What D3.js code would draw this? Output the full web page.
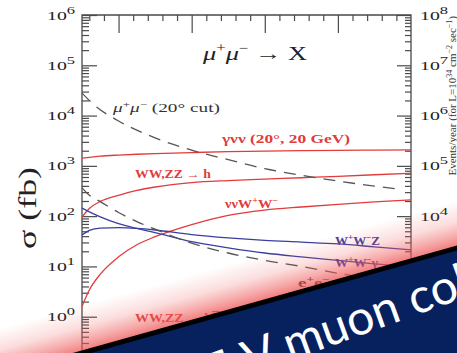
<!DOCTYPE html>
<html>
<head>
<meta charset="utf-8">
<script src="https://cdn.jsdelivr.net/npm/d3@7"></script>
<style>
  html, body { margin: 0; padding: 0; background: #fff; }
  svg { display: block; }
</style>
</head>
<body>
<svg id="chart" width="457" height="353"></svg>
<script>
// Collision energy sqrt(s) in TeV, shared grid for the smooth curves
const energy = [0.5, 0.6, 0.75, 1.0, 1.25, 1.5, 2.0, 2.5, 3.0, 3.5, 4.0, 4.5, 5.0];

// Cross sections in fb on the grid above
const gammaNuNu   = [1420, 1480, 1560, 1640, 1700, 1750, 1840, 1920, 1970, 2010, 2040, 2060, 2080];
const wwzzToH     = [96, 142, 196, 260, 325, 380, 465, 510, 545, 580, 620, 665, 715];
const nuNuWW      = [1.6, 3.4, 7.0, 15.5, 27, 39, 68, 104, 132, 152, 172, 192, 210];
const wwZ         = [42, 52, 58, 59, 57, 53, 43, 37, 33, 30.5, 28, 24.5, 21.3];
const wwGamma     = [144, 122, 97, 71, 57, 47, 31, 23.5, 18.5, 15.5, 13.2, 11.2, 9.8];
const eePair      = [364, 260, 194, 118, 78, 55, 29, 18.5, 13.2, 10.0, 7.3, 5.6, 4.5];

// mu+mu- pair production with a 20 degree cut, drawn up to 4.8 TeV
const muMuEnergy  = [0.5, 0.7, 1.0, 1.5, 2.0, 2.5, 3.0, 3.5, 4.0, 4.5, 4.8];
const muMuPair    = [28000, 14800, 7800, 3600, 2050, 1330, 880, 650, 500, 395, 350];

// Axis ticks
const xMajor = [1, 2, 3, 4];
const leftDecades  = [0, 1, 2, 3, 4, 5, 6];
const rightDecades = [4, 5, 6, 7, 8];

const svg = d3.select("#chart");
const W = 457, H = 353;
svg.append("rect").attr("width", W).attr("height", H).attr("fill", "#fff");

const x = d3.scaleLinear().domain([0.5, 5]).range([82, 411]);
const y = d3.scaleLog().domain([0.1, 1e6]).range([367, 15]);
const yR = d3.scaleLog().domain([10, 1e8]).range([367, 15]);

const frameColor = "#4a4a4a";
const serif = "'Liberation Serif', 'DejaVu Serif', serif";

// stretch a text run to a given advance, glyphs included
function fit(t, len) {
  return t.attr("textLength", len).attr("lengthAdjust", "spacingAndGlyphs");
}

// ---- frame ----
svg.append("path")
  .attr("d", `M${x(0.5)},${H + 20}V${y(1e6)}H${x(5)}V${H + 20}`)
  .attr("fill", "none").attr("stroke", frameColor).attr("stroke-width", 1.3);

// minor tick values for a log axis
function minors(scale) {
  const [a, b] = scale.domain();
  const out = [];
  for (let e = Math.floor(Math.log10(a)); e < Math.log10(b); e++) {
    for (let m = 2; m <= 9; m++) {
      const v = m * Math.pow(10, e);
      if (v > a && v < b) out.push(v);
    }
  }
  return out;
}

function styleAxis(g) {
  g.select(".domain").remove();
  g.selectAll("line").attr("stroke", frameColor).attr("stroke-width", 1.2);
  g.selectAll("text").remove();
}

// left axis (ticks point into the plot)
svg.append("g").attr("transform", `translate(${x(0.5)},0)`)
  .call(d3.axisRight(y).tickValues(leftDecades.map(d => Math.pow(10, d))).tickSize(15))
  .call(styleAxis);
svg.append("g").attr("transform", `translate(${x(0.5)},0)`)
  .call(d3.axisRight(y).tickValues(minors(y)).tickSize(7))
  .call(styleAxis);

// right axis
svg.append("g").attr("transform", `translate(${x(5)},0)`)
  .call(d3.axisLeft(yR).tickValues(rightDecades.map(d => Math.pow(10, d))).tickSize(14))
  .call(styleAxis);
svg.append("g").attr("transform", `translate(${x(5)},0)`)
  .call(d3.axisLeft(yR).tickValues(minors(yR)).tickSize(6))
  .call(styleAxis);

// top axis
const xMinor = d3.range(0.6, 4.99, 0.2).filter(v => Math.abs(v - Math.round(v)) > 0.01);
svg.append("g").attr("transform", `translate(0,${y(1e6)})`)
  .call(d3.axisBottom(x).tickValues(xMajor).tickSize(18))
  .call(styleAxis);
svg.append("g").attr("transform", `translate(0,${y(1e6)})`)
  .call(d3.axisBottom(x).tickValues(xMinor).tickSize(6))
  .call(styleAxis);

// power-of-ten tick labels
function powLabel(g, px, py, exp) {
  const t = g.append("text").attr("x", px).attr("y", py)
    .attr("font-family", serif).attr("font-size", 12).attr("fill", "#222");
  fit(t, 28);
  t.append("tspan").text("10");
  t.append("tspan").attr("dy", -6).attr("font-size", 10).text(exp);
}
const labels = svg.append("g");
leftDecades.forEach(d => powLabel(labels, 47, y(Math.pow(10, d)) + 4.5, d));
rightDecades.forEach(d => powLabel(labels, 420, yR(Math.pow(10, d)) + 4.5, d));

// axis titles
fit(svg.append("text")
  .attr("transform", `translate(36,208) rotate(-90)`)
  .attr("text-anchor", "middle")
  .attr("font-family", serif).attr("font-size", 25).attr("fill", "#222")
  .text("σ (fb)"), 82);

const rt = svg.append("text")
  .attr("transform", `translate(456,16) rotate(-90)`)
  .attr("text-anchor", "end")
  .attr("font-family", serif).attr("font-size", 11).attr("fill", "#333");
rt.append("tspan").text("Events/year (for L=10");
rt.append("tspan").attr("dy", -4).attr("font-size", 8).text("34");
rt.append("tspan").attr("dy", 4).text(" cm");
rt.append("tspan").attr("dy", -4).attr("font-size", 8).text("−2");
rt.append("tspan").attr("dy", 4).text(" sec");
rt.append("tspan").attr("dy", -4).attr("font-size", 8).text("−1");
rt.append("tspan").attr("dy", 4).text(")");

// ---- curves ----
const red = "#e23b3b", blue = "#3a3f9e", dash = "#555";
const line = d3.line().x(d => x(d[0])).y(d => y(d[1])).curve(d3.curveMonotoneX);
const plot = svg.append("g");
function curve(xs, ys, color, dashed) {
  plot.append("path")
    .datum(xs.map((e, i) => [e, ys[i]]))
    .attr("d", line)
    .attr("fill", "none")
    .attr("stroke", color)
    .attr("stroke-width", 1.3)
    .attr("stroke-dasharray", dashed ? "12,8" : null);
}
curve(energy, gammaNuNu, red);
curve(energy, wwzzToH, red);
curve(energy, nuNuWW, red);
curve(energy, wwZ, blue);
curve(energy, wwGamma, blue);
curve(energy, eePair, dash, true);
curve(muMuEnergy, muMuPair, dash, true);

// ---- curve labels ----
function label(px, py, color, parts, size, len) {
  const t = plot.append("text").attr("x", px).attr("y", py)
    .attr("font-family", serif).attr("font-size", size)
    .attr("font-weight", "bold").attr("fill", color);
  if (len) fit(t, len);
  parts.forEach(p => {
    const s = t.append("tspan").text(p.t);
    if (p.sup) s.attr("dy", -5).attr("font-size", size * 0.7);
    if (p.down) s.attr("dy", 5);
    if (p.bar) s.attr("text-decoration", "overline");
  });
  return t;
}
const title = plot.append("text").attr("x", 203).attr("y", 60)
  .attr("font-family", serif).attr("font-size", 19).attr("fill", "#222");
fit(title, 104);
title.append("tspan").attr("font-style", "italic").text("μ");
title.append("tspan").attr("dy", -8).attr("font-size", 12).text("+");
title.append("tspan").attr("dy", 8).attr("font-style", "italic").text("μ");
title.append("tspan").attr("dy", -8).attr("font-size", 12).text("−");
title.append("tspan").attr("dy", 8).text(" → X");

const mm = plot.append("text").attr("x", 113).attr("y", 112)
  .attr("font-family", serif).attr("font-size", 13.5).attr("fill", "#333");
fit(mm, 107);
mm.append("tspan").attr("font-style", "italic").text("μ");
mm.append("tspan").attr("dy", -5).attr("font-size", 9).text("+");
mm.append("tspan").attr("dy", 5).attr("font-style", "italic").text("μ");
mm.append("tspan").attr("dy", -5).attr("font-size", 9).text("−");
mm.append("tspan").attr("dy", 5).text(" (20° cut)");

label(222, 143, red, [{t: "γνν (20°, 20 GeV)"}], 11.5, 128);
label(135, 178, red, [{t: "WW,ZZ → h"}], 11.5, 76);
label(225, 208, red, [{t: "ννW"}, {t: "+", sup: true}, {t: "W", down: true}, {t: "−", sup: true}], 11.5, 53);
label(335, 245, blue, [{t: "W"}, {t: "+", sup: true}, {t: "W", down: true}, {t: "−", sup: true}, {t: "Z", down: true}], 12, 45);
label(335, 267, blue, [{t: "W"}, {t: "+", sup: true}, {t: "W", down: true}, {t: "−", sup: true}, {t: "γ", down: true}], 12, 43);
label(298, 287, "#333", [{t: "e"}, {t: "+", sup: true}, {t: "e", down: true}, {t: "−", sup: true}], 12, 32);
label(135, 322, red, [{t: "WW,ZZ → b"}, {t: "b", bar: true}], 11.5, 85);

// ---- banner across the lower right ----
const slope = -0.28;
const edgeY = xx => 353 + slope * (xx - 82);     // edge line passes (82,353)
const defs = svg.append("defs");
const nx = Math.sin(Math.atan(slope)), ny = -Math.cos(Math.atan(slope));
const gx0 = 250, gy0 = edgeY(250);
const grad = defs.append("linearGradient").attr("id", "glow")
  .attr("gradientUnits", "userSpaceOnUse")
  .attr("x1", gx0).attr("y1", gy0)
  .attr("x2", gx0 + nx * 46).attr("y2", gy0 + ny * 46);
[[0, 0.8], [0.25, 0.5], [0.55, 0.2], [1, 0]].forEach(([o, a]) =>
  grad.append("stop").attr("offset", o).attr("stop-color", "#ee5555").attr("stop-opacity", a));
svg.append("path")
  .attr("d", `M-10,${edgeY(-10)}L${W + 10},${edgeY(W + 10)}L${W + 10},${edgeY(W + 10) - 80}L-10,${edgeY(-10) - 80}Z`)
  .attr("fill", "url(#glow)");
svg.append("path")
  .attr("d", `M-10,${edgeY(-10)}L${W + 10},${edgeY(W + 10)}L${W + 10},${H + 10}L-10,${H + 10}Z`)
  .attr("fill", "#07215e");
svg.append("line")
  .attr("x1", -10).attr("y1", edgeY(-10)).attr("x2", W + 10).attr("y2", edgeY(W + 10))
  .attr("stroke", "#000").attr("stroke-width", 5);

// banner caption: the word "muon" starts at (290,361) on a -20 degree baseline
const capAngle = -20, capRad = capAngle * Math.PI / 180;
const cap = svg.append("text")
  .attr("font-family", "Lato, 'Open Sans', sans-serif").attr("font-size", 48)
  .attr("fill", "#fff")
  .text("TeV muon collider");
const lead = cap.node().getSubStringLength(0, 4);
const ox = 290 - lead * Math.cos(capRad), oy = 361 - lead * Math.sin(capRad);
cap.attr("transform", `translate(${ox},${oy}) rotate(${capAngle})`);
</script>
</body>
</html>
